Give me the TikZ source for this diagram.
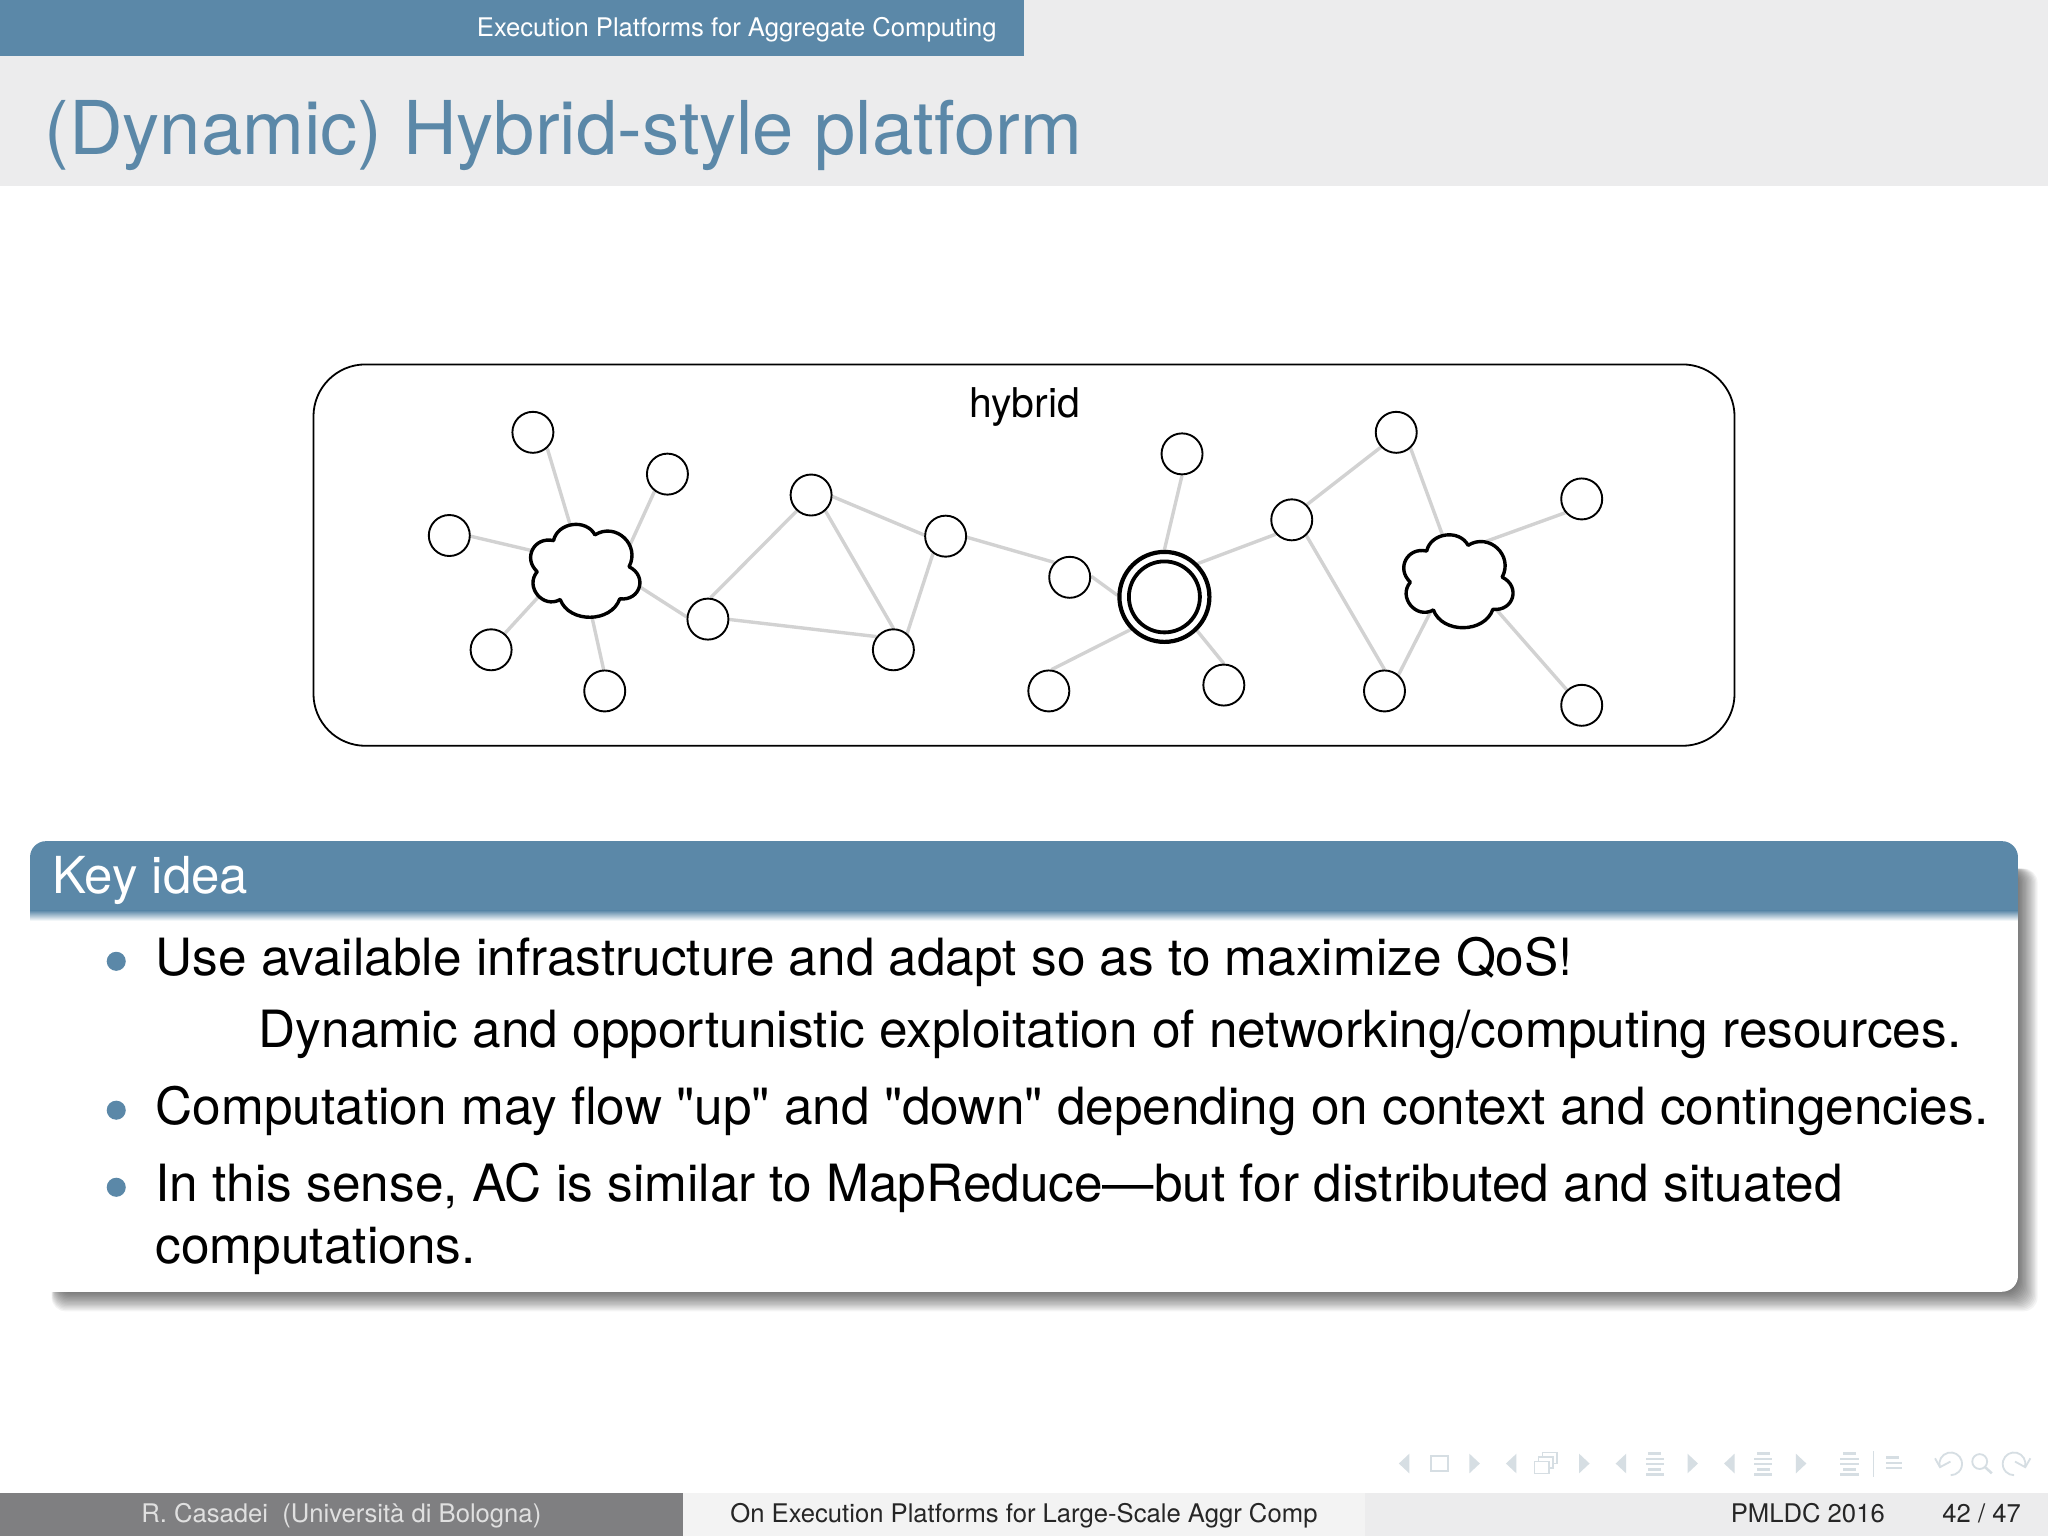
\documentclass[tikz,border=0pt]{standalone}
\usepackage{fontspec}
\setmainfont{TeX Gyre Heros}
\newfontfamily\plainf{TeX Gyre Heros}
\definecolor{blu}{HTML}{5B88A8}
\definecolor{band}{HTML}{ECECED}
\definecolor{edgeg}{HTML}{D2D2D2}
\definecolor{navc}{HTML}{D6DEE3}
\definecolor{footl}{HTML}{7F7F81}
\definecolor{footm}{HTML}{F3F3F3}
\newcommand{\fs}[1]{\fontsize{#1}{#1}\selectfont}
\newcommand{\cloudpath}[2]{%
 \begin{scope}[shift={(#1,#2)}]
 \draw[cloudline] (455.5,409.5) to[bend left=75,looseness=1.35] (481.6,433.9)
   to[bend left=80,looseness=1.6] (474.5,458.5)
   to[bend left=70,looseness=1.1] (428.9,459)
   to[bend left=80,looseness=1.4] (411.3,437.7)
   to[bend left=75,looseness=1.45] (423.8,413.9)
   to[bend left=70,looseness=1.15] cycle;
 \end{scope}}
\newcommand{\navl}[1]{\fill[navc] (#1+4,1113)--(#1-4,1120.5)--(#1+4,1128)--cycle;}
\newcommand{\navr}[1]{\fill[navc] (#1-4,1113)--(#1+4,1120.5)--(#1-4,1128)--cycle;}
\newcommand{\navlines}[1]{\foreach \yy/\ww in {1113/6,1117/8,1121/8,1125/6,1129/8}{\fill[navc] (#1-\ww,\yy-1) rectangle (#1+\ww-2,\yy+1);}}
\pgfdeclarelayer{framelayer}
\pgfdeclarelayer{edgelayer}
\pgfsetlayers{framelayer,edgelayer,main}
\tikzset{
 sat/.style={circle,draw=black,line width=1.9pt,fill=white,minimum size=41pt,inner sep=0pt},
 hubo/.style={circle,draw=black,line width=4.2pt,fill=white,minimum size=90pt,inner sep=0pt},
 hubi/.style={circle,draw=black,line width=3.8pt,minimum size=71pt,inner sep=0pt},
 lnk/.style={edgeg,line width=3.4pt},
 cloudline/.style={draw=black,fill=white,line width=3.4pt,line join=round},
 lab/.style={inner sep=0pt,anchor=base west},
 body/.style={lab,font=\fs{51.35}\plainf},
 small/.style={lab,font=\fs{25.65}},
}
\begin{document}
\begin{tikzpicture}[x=1.30612pt,y=-1.30612pt]
\useasboundingbox (0,0) rectangle (1568,1176);
\begin{pgfonlayer}{framelayer}
\fill[white] (0,0) rectangle (1568,1176);
\fill[band] (0,0) rectangle (1568,142.5);
\fill[blu] (0,0) rectangle (784,42.5);
\draw[black,fill=white,line width=1.8pt,rounded corners=52pt] (240,279) rectangle (1328,571);
\end{pgfonlayer}
\node[small,text=white] (sect) at (365,28) {Execution Platforms for Aggregate Computing};
\node[lab,text=blu,font=\fs{74.2}] (title) at (34,118) {(Dynamic) Hybrid-style platform};
\node[inner sep=0pt,font=\fs{41}] (hyb) at (784.5,312) {hybrid};
% cloud anchor points
\coordinate (c1a) at (437.5,405); \coordinate (c1b) at (482,418); \coordinate (c1c) at (409,422);
\coordinate (c1d) at (414,455); \coordinate (c1e) at (452,467); \coordinate (c1f) at (487,447.5);
\coordinate (c2a) at (1106,414); \coordinate (c2b) at (1128,418); \coordinate (c2c) at (1097,465); \coordinate (c2d) at (1145,466);
% nodes
\node[sat] (n1) at (408,331) {};
\node[sat] (n2) at (511,363) {};
\node[sat] (n3) at (344,410) {};
\node[sat] (n4) at (376,497.5) {};
\node[sat] (n5) at (463,529) {};
\node[sat] (n6) at (621,379) {};
\node[sat] (n7) at (724,410.5) {};
\node[sat] (n8) at (542,474) {};
\node[sat] (n9) at (684,497.5) {};
\node[sat] (n10) at (819,442) {};
\node[sat] (n11) at (905,347.5) {};
\node[sat] (n12) at (989,398) {};
\node[sat] (n13) at (1069,331) {};
\node[sat] (n14) at (1211,382) {};
\node[sat] (n15) at (803,529) {};
\node[sat] (n16) at (937,524.5) {};
\node[sat] (n17) at (1060,529) {};
\node[sat] (n18) at (1211,540) {};
\node[hubo] (hub) at (891.5,457) {};
\node[hubi] (hubin) at (891.5,457) {};
% connectors
\begin{pgfonlayer}{edgelayer}
\draw[lnk] (n1.-48)--(c1a) (n2.233)--(c1b) (n3.-2)--(c1c) (n4.50)--(c1d) (n5.93)--(c1e) (c1f)--(n8.174);
\draw[lnk] (n8.83)--(n6.228) (n6.-4)--(n7.177) (n6.-48)--(n9.90) (n8.-1)--(n9.142) (n7.234)--(n9.50) (n7.-3)--(n10.136);
\draw[lnk] (n10.3)--(hub.178) (n11.270)--(hub.90) (hub.45)--(n12.222) (hub.224)--(n15.83) (hub.-46)--(n16.90);
\draw[lnk] (n12.45)--(n13.224) (n13.-48)--(c2a) (n12.-47)--(n17.90) (n17.49)--(c2c) (n14.220)--(c2b) (n18.134)--(c2d);
\end{pgfonlayer}
\cloudpath{0}{0}
\cloudpath{668.5}{8}
% block shadow
\foreach \k in {15,14,...,0}
  \fill[black,opacity=.045,rounded corners=14pt] (44-\k*.3,665) rectangle (1545+\k,989+\k);
% block
\fill[white,rounded corners=16pt] (23,690) rectangle (1545,989);
\fill[blu] (23,698) [rounded corners=16pt] -- (23,644) -- (1545,644) [sharp corners] -- (1545,698) -- cycle;
\shade[top color=blu,bottom color=white] (23,697) rectangle (1545,705);
\node[lab,text=white,font=\fs{51}] (key) at (40,684) {Key idea};
\foreach \y in {736,850,909} \fill[blu] (89,\y) circle (7.3);
\node[body] (l1) at (119,747) {Use available infrastructure and adapt so as to maximize QoS!};
\node[body] (l2) at (198,802) {Dynamic and opportunistic exploitation of networking/computing resources.};
\node[body] (l3) at (119,861) {Computation may flow "up" and "down" depending on context and contingencies.};
\node[body] (l4) at (119,920) {In this sense, AC is similar to MapReduce—but for distributed and situated};
\node[body] (l5) at (119,967) {computations.};
% navigation
\navl{1075} \draw[navc,line width=1.8pt] (1095.5,1115) rectangle (1108.5,1126); \navr{1129}
\navl{1157}
\draw[navc,line width=1.5pt] (1175,1119) rectangle (1186,1128);
\draw[navc,line width=1.5pt] (1178,1119)--(1178,1115.5)--(1189,1115.5)--(1189,1124)--(1186,1124);
\draw[navc,line width=1.5pt] (1181,1115.5)--(1181,1112)--(1192,1112)--(1192,1120.5)--(1189,1120.5);
\navr{1213}
\navl{1241} \navlines{1268} \navr{1296}
\navl{1324} \navlines{1351} \navr{1379}
\navlines{1417}
\draw[navc,line width=1pt] (1434.4,1111)--(1434.4,1131);
\foreach \yy/\ww in {1116/5,1120/6,1124/6}{\fill[navc] (1444,\yy-1) rectangle (1444+\ww+\ww,\yy+1);}
\draw[navc,line width=1.8pt] (1485.1,1123) arc[start angle=165,end angle=450,radius=8.7];
\draw[navc,line width=1.8pt] (1481.5,1116.5)--(1485.3,1123.3)--(1493.3,1119);
\draw[navc,line width=1.8pt] (1515.7,1119) circle (5.7);
\draw[navc,line width=2.5pt] (1519.5,1123)--(1525,1128);
\draw[navc,line width=1.8pt] (1550.4,1123) arc[start angle=15,end angle=-270,radius=8.7];
\draw[navc,line width=1.8pt] (1554.5,1116.5)--(1550.6,1123.3)--(1542.7,1119);
% footer
\fill[footl] (0,1143) rectangle (523,1176);
\fill[footm] (523,1143) rectangle (1045,1176);
\fill[band] (1045,1143) rectangle (1568,1176);
\node[small,text=white!88!black] (fa) at (108,1166) {R. Casadei\ \ (Università di Bologna)};
\node[small,text=black!85] (fb) at (559,1166) {On Execution Platforms for Large-Scale Aggr Comp};
\node[small,text=black!85] (fc) at (1325,1166) {PMLDC 2016};
\node[small,text=black!85] (fd) at (1487,1166) {42 / 47};
\end{tikzpicture}
\end{document}
